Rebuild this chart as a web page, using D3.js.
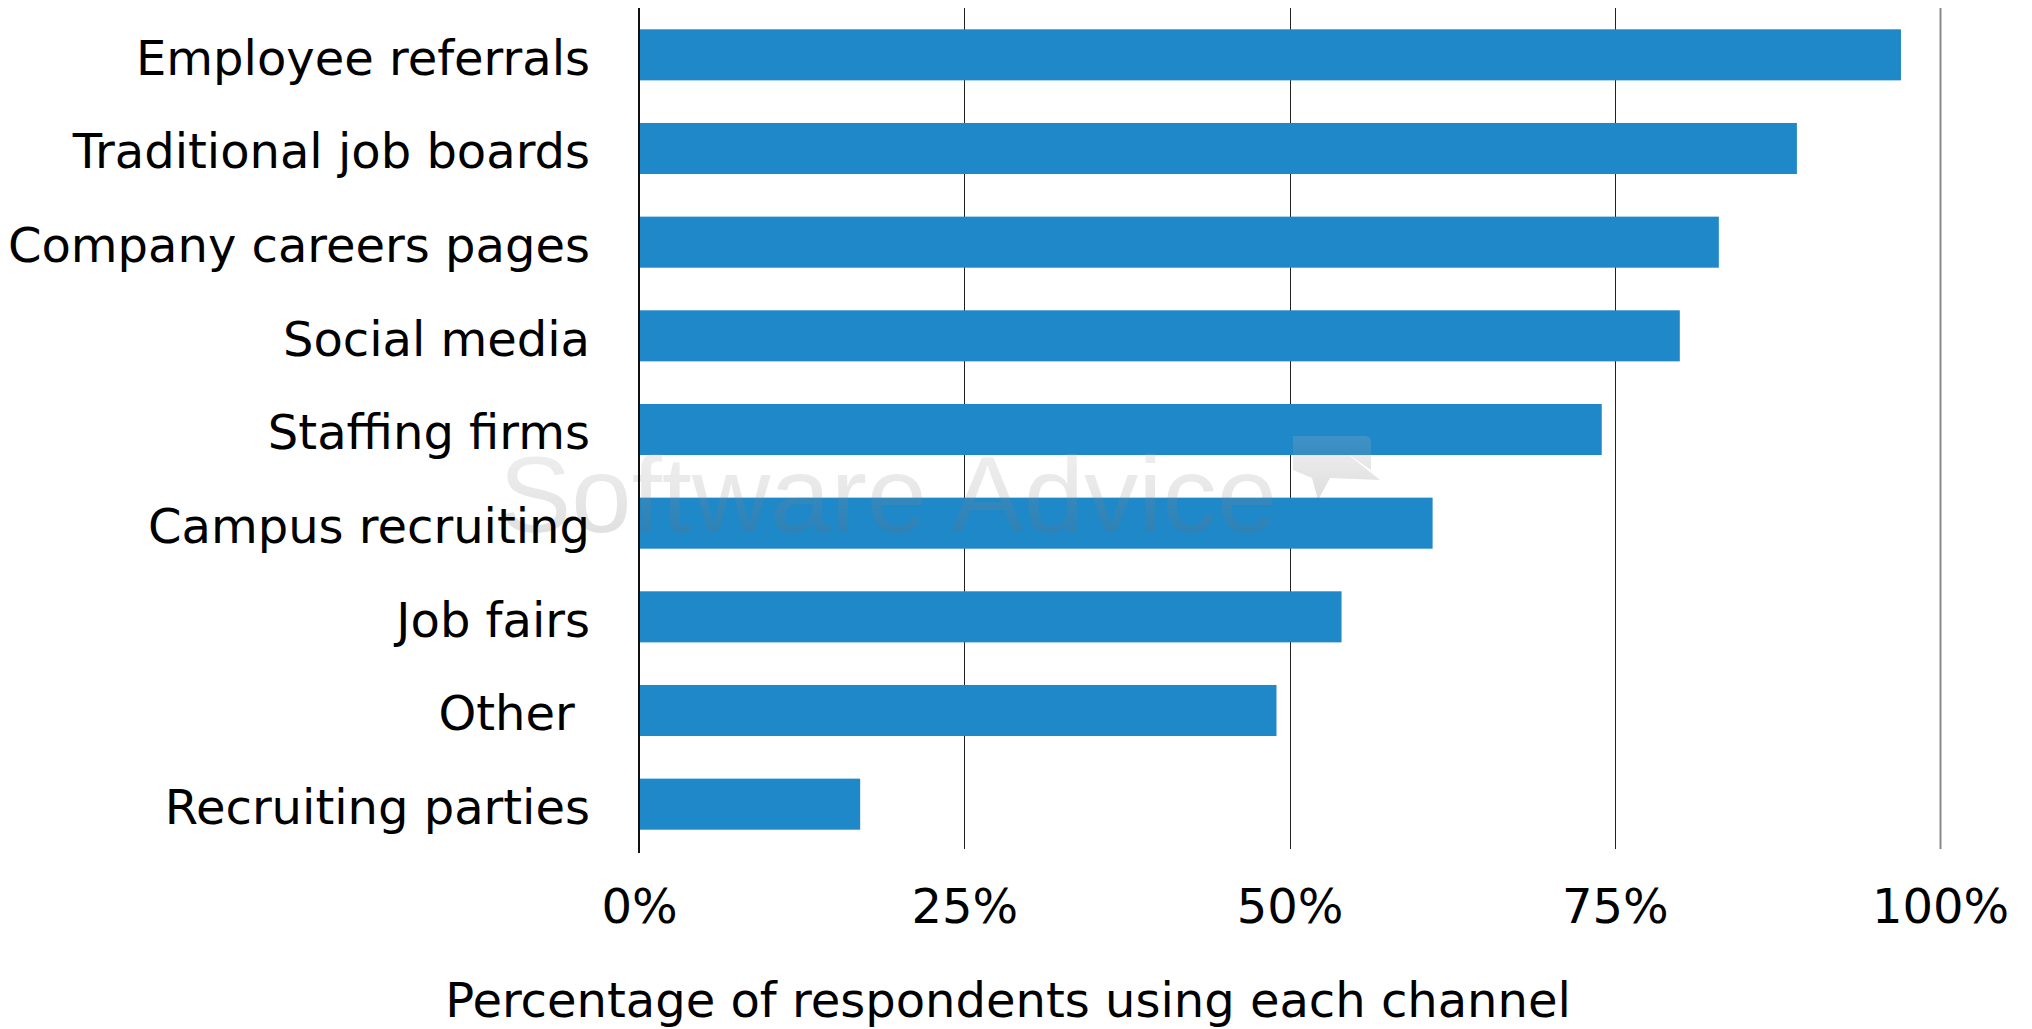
<!DOCTYPE html>
<html>
<head>
<meta charset="utf-8">
<script src="https://cdn.jsdelivr.net/npm/d3@7/dist/d3.min.js"></script>
<style>
  html, body { margin: 0; padding: 0; background: #ffffff; }
  svg { display: block; }
  text { font-family: "DejaVu Sans", Verdana, sans-serif; fill: #000; }
</style>
</head>
<body>
<svg id="chart" width="2032" height="1029"></svg>
<script>
const categories = [
  "Employee referrals",
  "Traditional job boards",
  "Company careers pages",
  "Social media",
  "Staffing firms",
  "Campus recruiting",
  "Job fairs",
  "Other ",
  "Recruiting parties"
];
const values = [97, 89, 83, 80, 74, 61, 54, 49, 17];
const tickValues = [0, 25, 50, 75, 100];
const axisTitle = "Percentage of respondents using each channel";
const watermark = "Software Advice";

const svg = d3.select("#chart");
const plotTop = 8, plotBottom = 851;
const x = d3.scaleLinear().domain([0, 100]).range([639, 1940]);
const y = d3.scaleBand().domain(categories).range([plotTop, plotBottom])
  .paddingInner(0.455).paddingOuter(0.2275);

const defs = svg.append("defs");
const grad = defs.append("linearGradient").attr("id", "wmgrad")
  .attr("x1", 0).attr("y1", 0).attr("x2", 0).attr("y2", 1);
grad.append("stop").attr("offset", "0%").attr("stop-color", "#bdbdbd");
grad.append("stop").attr("offset", "100%").attr("stop-color", "#5a5a5a");

// gridlines
svg.append("g").selectAll("line").data(tickValues.filter(d => d > 0)).join("line")
  .attr("x1", d => Math.round(x(d)) + 0.5).attr("x2", d => Math.round(x(d)) + 0.5)
  .attr("y1", plotTop).attr("y2", plotBottom - 2)
  .attr("stroke", d => d === 100 ? "#8a8a8a" : "#222")
  .attr("stroke-width", d => d === 100 ? 2 : 1);

// bars
svg.append("g").selectAll("rect").data(values).join("rect")
  .attr("x", x(0) + 1)
  .attr("y", (d, i) => y(categories[i]))
  .attr("width", d => x(d) - x(0) - 1)
  .attr("height", y.bandwidth())
  .attr("fill", "#1f88c8");

// watermark
const wm = svg.append("g").attr("opacity", 0.2);
wm.append("text")
  .attr("x", 499).attr("y", 532)
  .attr("textLength", 778).attr("lengthAdjust", "spacingAndGlyphs")
  .style("font-family", "'Liberation Sans', Arial, sans-serif")
  .style("font-size", "108px")
  .style("fill", "url(#wmgrad)")
  .text(watermark);
wm.append("path")
  .attr("d", "M1293,436 L1365,436 Q1371,436 1371,442 L1371,470 L1345,452 L1380,480 L1330,478 L1318,500 L1312,478 L1293,470 Z")
  .attr("fill", "url(#wmgrad)");

// y axis line
svg.append("line")
  .attr("x1", 639).attr("x2", 639)
  .attr("y1", plotTop).attr("y2", plotBottom + 2)
  .attr("stroke", "#111").attr("stroke-width", 2);

// category labels
const yAxis = d3.axisLeft(y).tickSize(0).tickPadding(0);
const gy = svg.append("g").attr("transform", "translate(590,0)").call(yAxis);
gy.select(".domain").remove();
gy.selectAll("text")
  .attr("x", 0).attr("dy", "0.41em")
  .style("font-size", "48px")
  .style("font-family", "'DejaVu Sans', Verdana, sans-serif")
  .style("white-space", "pre")
  .attr("fill", "#000");

// x tick labels
const xAxis = d3.axisBottom(x).tickValues(tickValues).tickSize(0).tickPadding(0)
  .tickFormat(d => d + "%");
const gx = svg.append("g").attr("transform", "translate(0,923)").call(xAxis);
gx.select(".domain").remove();
gx.selectAll("text")
  .attr("y", 0).attr("dy", 0)
  .style("font-size", "48px")
  .style("font-family", "'DejaVu Sans', Verdana, sans-serif")
  .attr("fill", "#000");

// axis title
svg.append("text")
  .attr("x", 1008).attr("y", 1017)
  .attr("text-anchor", "middle")
  .style("font-size", "48px")
  .text(axisTitle);
</script>
</body>
</html>
